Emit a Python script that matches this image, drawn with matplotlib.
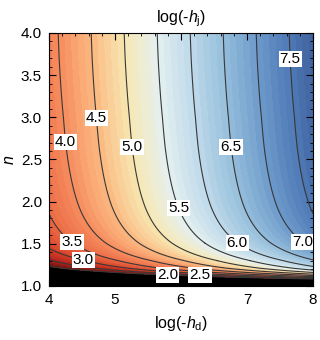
import numpy as np
import matplotlib
matplotlib.use("Agg")
import matplotlib.pyplot as plt
from matplotlib.colors import LinearSegmentedColormap
from matplotlib.ticker import MultipleLocator

plt.rcParams['font.family'] = ['Liberation Sans', 'DejaVu Sans']
plt.rcParams['mathtext.fontset'] = 'custom'
plt.rcParams['mathtext.rm'] = 'Liberation Sans'
plt.rcParams['mathtext.it'] = 'Liberation Sans:italic'

# shift of the contours (log(-hd) - log(-hj)) read at several n
n_read = [1.08, 1.13, 1.21, 1.30, 1.51, 1.93, 2.65, 2.99, 3.69, 4.0]
shift_read = [6.2, 3.8, 2.2, 1.55, 0.86, 0.46, 0.26, 0.22, 0.155, 0.14]

line_levels = [2.0, 2.5, 3.0, 3.5, 4.0, 4.5, 5.0, 5.5, 6.0, 6.5, 7.0, 7.5]
label_pos = [(4.26, 2.71), (4.73, 2.99), (5.26, 2.65), (5.97, 1.925),
             (6.85, 1.51), (6.76, 2.65), (7.83, 1.51), (7.65, 3.69),
             (4.35, 1.52), (4.52, 1.30), (5.80, 1.13), (6.29, 1.13)]

# colours
cmap_vals = [2.0, 2.5, 3.0, 3.5, 4.0, 4.5, 5.0, 5.5, 6.0, 6.5, 7.0, 7.5, 8.0]
cmap_cols = ["#5a120e", "#a8201a", "#d43d27", "#eb6a44", "#f68c5e", "#fbb880",
             "#f8e8b2", "#e4f0f0", "#c0daea", "#96bfdc", "#6e9bcb", "#4f7ab6",
             "#3b5a96"]

cmap = LinearSegmentedColormap.from_list(
    "rb", [((v - 2.0) / 6.0, c) for v, c in zip(cmap_vals, cmap_cols)])
cmap.set_under("black")

x = np.linspace(4, 8, 401)
n = np.linspace(1.0, 4.0, 601)
shift = np.exp(np.interp(np.log(np.maximum(n - 1, 1e-3)),
                         np.log(np.array(n_read) - 1), np.log(shift_read)))
X, N = np.meshgrid(x, n)
Z = X - shift[:, None]

fig = plt.figure(figsize=(3.2, 3.4), dpi=100)
ax = fig.add_axes([0.153, 0.159, 0.825, 0.744])

ax.contourf(X, N, Z, levels=np.arange(2.0, 8.01, 0.1), cmap=cmap,
            vmin=2.0, vmax=8.0, extend='min')
cs = ax.contour(X, N, Z, levels=line_levels, colors="#383838", linewidths=0.8)
labels = ax.clabel(cs, fmt="%.1f", fontsize=11, inline=False, manual=label_pos)
for t in labels:
    t.set_rotation(0)
    t.set_color("black")
    t.set_bbox(dict(facecolor="white", edgecolor="none", pad=0.8))
    t.set_zorder(5)

ax.set_xlim(4, 8)
ax.set_ylim(1, 4)
ax.set_xticks([4, 5, 6, 7, 8])
ax.set_yticks(np.arange(1.0, 4.01, 0.5))
ax.set_yticklabels(["%.1f" % v for v in np.arange(1.0, 4.01, 0.5)])
ax.xaxis.set_minor_locator(MultipleLocator(0.2))
ax.yaxis.set_minor_locator(MultipleLocator(0.1))
ax.tick_params(which='both', direction='in', top=True, right=True,
               labelsize=11, color='black')
ax.tick_params(which='major', length=5, width=0.8, pad=5)
ax.tick_params(which='minor', length=2.5, width=0.6)
for sp in ax.spines.values():
    sp.set_linewidth(0.8)

ax.set_title(r"log(-$h_{\mathrm{j}}$)", fontsize=11.5, pad=8)
ax.set_xlabel(r"log(-$h_{\mathrm{d}}$)", fontsize=11.5, labelpad=5)
ax.set_ylabel(r"$n$", fontsize=11.5, labelpad=3)

fig.savefig("out.png", dpi=100)
